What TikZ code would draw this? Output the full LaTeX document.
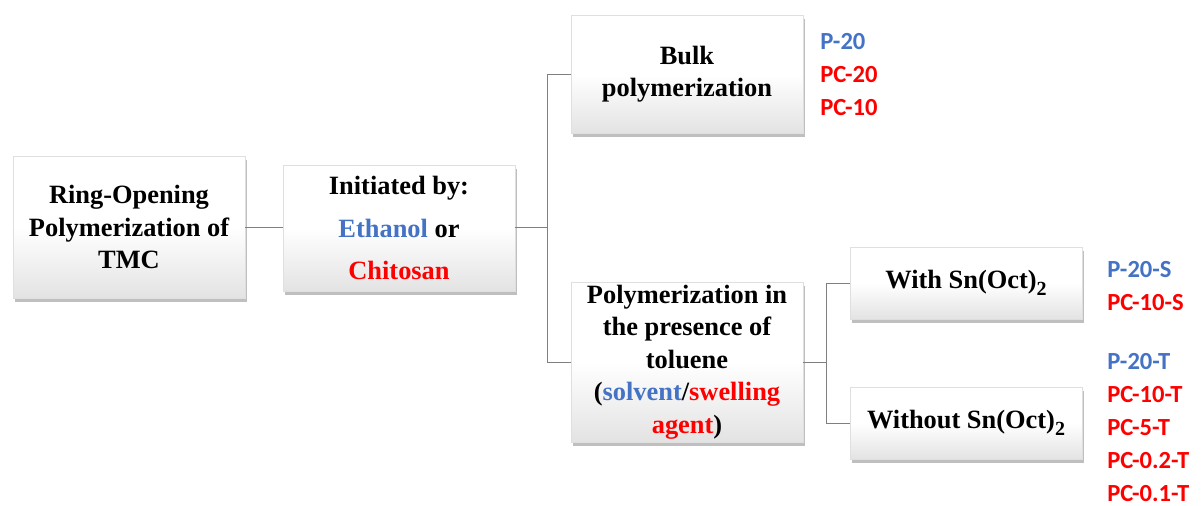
\documentclass[tikz,border=0pt]{standalone}
\usepackage{fontspec}
\setmainfont{Liberation Serif}
\newfontfamily\labelfont{Carlito}
\usetikzlibrary{shadows}
\definecolor{ethblue}{RGB}{68,114,196}
\definecolor{chired}{RGB}{255,0,0}
\newcommand{\snoct}{Sn(Oct)\raisebox{-3.5pt}{\fontsize{10}{10}\selectfont\bfseries 2}}

\begin{document}
\begin{tikzpicture}[x=0.5pt,y=-0.5pt]
    \tikzstyle{box}=[draw=gray!25, thin, top color=white, bottom color=gray!22, middle color=white, minimum width=116pt, inner sep=1pt, align=center, font=\fontsize{13.2}{16.25}\selectfont\bfseries, drop shadow={shadow xshift=1.2pt, shadow yshift=-1.8pt, opacity=0.5}]
    \tikzstyle{wire}=[thin, gray]
    \tikzstyle{samplelist}=[anchor=west, align=left, inner sep=0pt, text=chired, font=\labelfont\fontsize{12.3}{16.5}\selectfont\bfseries]

    \useasboundingbox (0,0) rectangle (1201,506);

    % boxes
    \node[box, minimum height=71pt] (rop) at (129,227) {Ring-Opening\\Polymerization of\\TMC};
    \node[box, minimum height=63pt] (init) at (399,228) {Initiated by:\\[5pt]\textcolor{ethblue}{Ethanol} or\\[5pt]\textcolor{chired}{Chitosan}};
    \node[box, minimum height=59pt] (bulk) at (687,74) {Bulk\\polymerization};
    \node[box, minimum height=80pt] (tol) at (687,362) {Polymerization in\\the presence of\\toluene\\(\textcolor{ethblue}{solvent}/\textcolor{chired}{swelling}\\\textcolor{chired}{agent})};
    \node[box, minimum height=36pt] (with) at (966,283) {With \snoct};
    \node[box, minimum height=36pt] (without) at (966,423) {Without \snoct};

    % sample names
    \node[samplelist] (bulklab) at (820,75) {\textcolor{ethblue}{P-20}\\PC-20\\PC-10};
    \node[samplelist] (withlab) at (1107,286) {\textcolor{ethblue}{P-20-S}\\PC-10-S};
    \node[samplelist] (withoutlab) at (1107,428) {\textcolor{ethblue}{P-20-T}\\PC-10-T\\PC-5-T\\PC-0.2-T\\PC-0.1-T};

    % connecting wires
    \coordinate (split) at (547,227);
    \coordinate (split2) at (826,362);
    \draw[wire] (rop.east) -- (rop.east -| init.west);
    \draw[wire] (init.east |- split) -- (split);
    \draw[wire] (split) |- (bulk.west);
    \draw[wire] (split) |- (tol.west);
    \draw[wire] (tol.east) -- (split2);
    \draw[wire] (split2) |- (with.west);
    \draw[wire] (split2) |- (without.west);

\end{tikzpicture}
\end{document}
